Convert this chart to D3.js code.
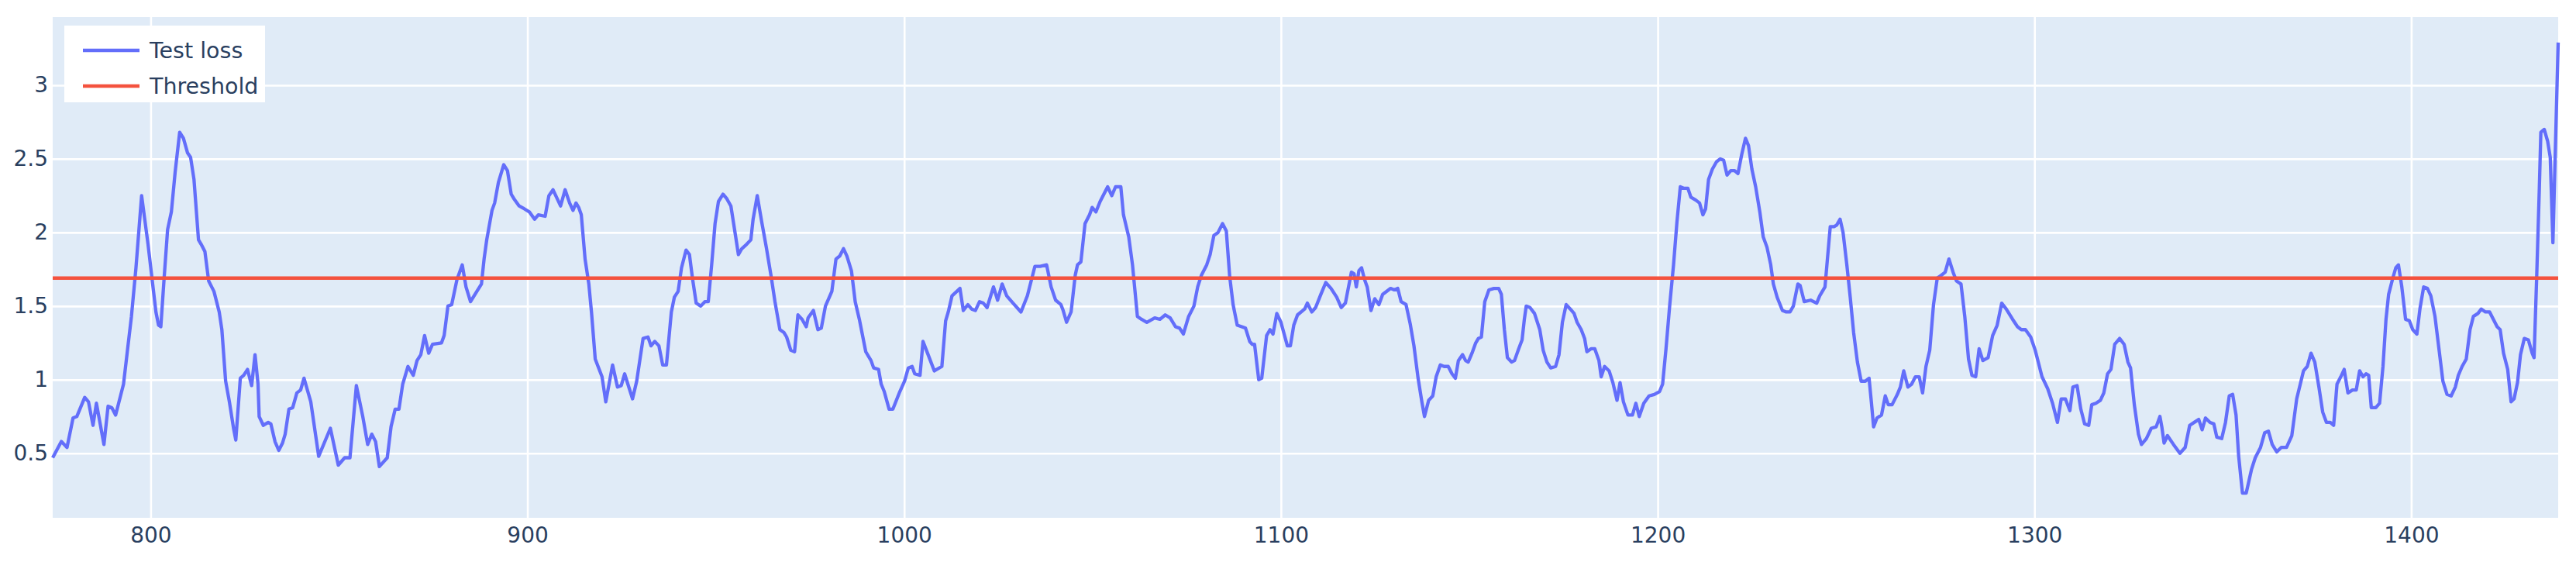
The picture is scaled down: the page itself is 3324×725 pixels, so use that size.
<!DOCTYPE html>
<html>
<head>
<meta charset="utf-8">
<script src="https://cdn.jsdelivr.net/npm/d3@7"></script>
<style>
  html, body { margin: 0; padding: 0; background: #ffffff; }
  svg { display: block; }
</style>
</head>
<body>
<svg id="chart" width="3324" height="725"></svg>
<script>
// ---- data ----
const steps = [774.0,776.3,777.8,779.4,780.4,782.5,783.5,784.7,785.6,787.6,788.7,789.7,790.7,791.8,792.8,793.8,794.9,796.1,797.6,799.3,800.3,801.4,802.1,802.7,803.6,804.5,805.5,806.5,807.7,808.7,809.8,810.6,811.5,812.7,813.4,814.4,815.4,816.8,818.2,818.9,819.9,820.9,822.0,822.6,823.8,824.7,825.7,826.8,827.7,828.5,828.8,829.9,831.2,831.9,833.0,834.0,835.0,835.7,836.7,837.7,838.8,839.8,840.7,842.5,844.6,847.7,849.8,851.5,852.9,854.6,856.3,857.6,858.7,859.7,860.7,862.8,863.8,864.9,865.9,866.9,868.3,869.7,870.7,871.7,872.7,873.8,874.8,877.2,877.9,878.9,879.9,881.3,882.7,883.7,884.9,886.1,887.8,888.5,889.2,890.6,891.3,892.3,893.7,894.7,895.7,896.4,897.8,899.2,900.5,901.9,902.9,904.7,905.7,906.8,908.8,910.0,911.2,912.1,912.9,913.6,914.3,915.3,916.3,917.0,918.0,919.8,920.8,922.6,923.9,924.9,925.8,927.9,929.0,930.7,932.0,932.8,933.8,934.9,935.9,936.9,938.2,939.0,940.0,940.9,942.1,943.0,943.8,944.8,946.0,947.1,948.0,948.9,949.8,950.7,951.9,952.9,954.0,955.1,956.0,956.9,958.2,959.3,959.9,961.0,962.2,963.4,964.7,965.7,967.0,968.1,968.8,969.9,970.9,971.8,972.9,974.0,974.5,975.9,977.1,978.0,979.1,980.8,981.9,982.9,983.9,984.8,986.0,987.0,988.1,989.8,991.2,991.9,993.2,993.9,994.7,996.0,997.0,998.7,1000.1,1001.1,1002.1,1002.8,1004.2,1005.0,1006.2,1008.0,1010.0,1011.0,1011.7,1012.7,1014.8,1015.7,1016.9,1017.9,1018.9,1020.0,1021.0,1022.0,1023.7,1024.8,1026.0,1027.2,1028.9,1031.0,1032.7,1034.7,1036.1,1037.8,1039.0,1040.2,1041.6,1042.2,1043.1,1044.3,1045.4,1046.0,1046.9,1048.0,1049.2,1049.9,1050.9,1052.0,1053.0,1054.0,1055.1,1056.1,1057.5,1058.2,1059.6,1060.6,1061.9,1063.0,1064.4,1066.5,1067.9,1069.3,1070.6,1072.0,1073.1,1074.1,1075.5,1076.9,1077.9,1078.9,1080.3,1081.2,1082.2,1083.3,1084.5,1085.5,1086.4,1087.3,1088.4,1089.6,1090.6,1091.7,1092.4,1093.0,1094.1,1094.9,1096.2,1097.1,1097.9,1098.9,1100.0,1101.7,1102.5,1103.4,1104.4,1105.8,1106.3,1107.0,1108.2,1109.2,1110.6,1111.9,1113.3,1114.8,1116.0,1117.1,1118.7,1119.4,1120.0,1120.7,1121.4,1122.2,1122.9,1123.9,1124.9,1126.0,1127.0,1129.1,1130.1,1131.0,1131.9,1133.2,1134.3,1135.3,1136.4,1137.4,1138.1,1139.2,1140.3,1141.2,1142.3,1143.3,1144.4,1145.4,1146.3,1147.1,1148.2,1149.0,1149.7,1150.7,1151.7,1152.4,1153.2,1154.1,1155.2,1156.5,1157.8,1158.5,1159.3,1160.1,1161.2,1162.0,1163.1,1164.0,1164.6,1165.1,1166.1,1167.3,1168.7,1169.6,1170.6,1171.6,1172.9,1173.8,1174.7,1175.7,1176.8,1177.8,1178.6,1179.7,1180.6,1181.2,1182.3,1183.3,1184.4,1185.0,1185.9,1187.1,1188.1,1189.2,1190.0,1190.9,1192.1,1193.3,1194.2,1195.1,1196.3,1197.7,1199.1,1200.5,1201.3,1202.2,1203.2,1204.2,1205.1,1206.0,1207.0,1208.0,1208.8,1210.1,1211.1,1212.0,1212.7,1213.5,1214.5,1215.6,1216.6,1217.5,1218.4,1219.4,1220.4,1221.3,1222.3,1223.3,1224.1,1225.0,1226.0,1227.1,1228.0,1229.0,1230.0,1230.7,1231.7,1233.1,1234.1,1235.1,1236.0,1237.2,1237.8,1238.9,1240.6,1242.2,1243.0,1244.4,1245.8,1246.8,1247.5,1248.4,1249.2,1250.2,1251.1,1252.0,1253.0,1254.0,1255.1,1256.1,1256.7,1257.3,1258.2,1259.4,1260.4,1261.2,1262.2,1263.6,1264.4,1265.3,1266.4,1267.4,1268.4,1269.4,1270.3,1271.2,1272.2,1273.2,1274.2,1275.3,1276.3,1277.3,1278.4,1279.3,1280.5,1281.5,1282.5,1283.4,1284.4,1285.3,1286.3,1287.7,1288.9,1290.1,1291.3,1292.5,1294.2,1295.5,1296.5,1297.6,1299.0,1300.2,1301.0,1302.0,1303.5,1304.8,1306.1,1307.1,1308.2,1309.4,1310.2,1311.3,1312.3,1313.3,1314.4,1315.2,1316.3,1317.5,1318.4,1319.4,1320.3,1321.3,1322.6,1323.8,1324.8,1325.5,1326.5,1327.6,1328.4,1329.7,1331.0,1332.3,1333.3,1333.8,1334.4,1335.3,1336.9,1338.6,1340.0,1341.2,1342.4,1343.6,1344.5,1345.4,1346.6,1347.6,1348.4,1349.7,1350.7,1351.7,1352.6,1353.5,1354.2,1355.2,1356.2,1357.6,1358.6,1360.0,1361.1,1362.1,1363.1,1364.3,1365.5,1366.9,1368.3,1369.6,1371.4,1372.4,1373.4,1374.4,1375.5,1376.5,1377.5,1378.5,1379.4,1380.3,1381.3,1382.2,1383.2,1384.4,1385.4,1386.3,1387.2,1388.0,1388.7,1389.4,1390.6,1391.6,1392.5,1393.3,1394.0,1395.0,1395.9,1396.6,1397.5,1398.5,1399.5,1400.4,1401.5,1402.3,1403.3,1404.3,1405.2,1406.3,1407.4,1408.4,1409.5,1410.6,1411.7,1412.5,1413.5,1414.6,1415.6,1416.5,1417.7,1418.6,1419.7,1420.8,1421.8,1422.8,1423.6,1424.5,1425.6,1426.5,1427.3,1428.2,1429.0,1430.0,1431.1,1432.1,1432.6,1433.3,1434.0,1434.4,1435.3,1436.2,1436.9,1437.6,1439.0];

const testLoss = [0.47,0.58,0.54,0.74,0.75,0.88,0.85,0.69,0.84,0.56,0.82,0.81,0.76,0.87,0.97,1.19,1.43,1.76,2.25,1.92,1.70,1.46,1.37,1.36,1.70,2.02,2.14,2.41,2.68,2.64,2.54,2.51,2.36,1.95,1.92,1.87,1.67,1.60,1.46,1.34,0.99,0.85,0.67,0.59,1.01,1.03,1.07,0.96,1.17,0.97,0.75,0.69,0.71,0.70,0.58,0.52,0.57,0.63,0.80,0.81,0.91,0.93,1.01,0.85,0.48,0.67,0.42,0.47,0.47,0.96,0.75,0.56,0.63,0.58,0.41,0.47,0.68,0.80,0.80,0.97,1.09,1.03,1.13,1.17,1.30,1.18,1.24,1.25,1.30,1.50,1.51,1.68,1.78,1.63,1.53,1.58,1.65,1.82,1.95,2.15,2.20,2.34,2.46,2.42,2.26,2.23,2.18,2.16,2.14,2.09,2.12,2.11,2.25,2.29,2.18,2.29,2.20,2.15,2.20,2.17,2.12,1.82,1.65,1.46,1.14,1.02,0.85,1.10,0.95,0.96,1.04,0.87,0.99,1.28,1.29,1.23,1.26,1.23,1.10,1.10,1.46,1.56,1.60,1.76,1.88,1.85,1.69,1.52,1.50,1.53,1.53,1.78,2.06,2.21,2.26,2.23,2.18,2.00,1.85,1.89,1.92,1.95,2.09,2.25,2.07,1.90,1.70,1.53,1.34,1.32,1.29,1.20,1.19,1.44,1.41,1.36,1.42,1.47,1.34,1.35,1.50,1.60,1.82,1.84,1.89,1.84,1.74,1.53,1.41,1.19,1.13,1.08,1.07,0.97,0.92,0.80,0.80,0.91,0.99,1.08,1.09,1.04,1.03,1.26,1.18,1.06,1.09,1.40,1.46,1.57,1.62,1.47,1.51,1.48,1.47,1.53,1.52,1.49,1.63,1.54,1.65,1.57,1.52,1.46,1.57,1.77,1.77,1.78,1.63,1.54,1.51,1.47,1.39,1.46,1.71,1.78,1.80,2.06,2.12,2.17,2.14,2.21,2.26,2.31,2.25,2.31,2.31,2.12,1.97,1.78,1.43,1.41,1.39,1.42,1.41,1.44,1.42,1.36,1.35,1.31,1.43,1.50,1.63,1.71,1.78,1.85,1.98,2.00,2.06,2.01,1.70,1.51,1.37,1.36,1.35,1.26,1.24,1.24,1.00,1.01,1.30,1.34,1.31,1.45,1.39,1.23,1.23,1.37,1.44,1.47,1.48,1.52,1.46,1.49,1.58,1.66,1.62,1.56,1.49,1.52,1.73,1.72,1.63,1.74,1.76,1.68,1.63,1.47,1.55,1.51,1.58,1.62,1.61,1.62,1.53,1.51,1.38,1.23,1.01,0.85,0.75,0.86,0.89,1.02,1.10,1.09,1.09,1.04,1.01,1.13,1.17,1.13,1.12,1.18,1.25,1.28,1.29,1.53,1.61,1.62,1.62,1.58,1.34,1.15,1.12,1.13,1.21,1.27,1.41,1.50,1.49,1.45,1.34,1.20,1.12,1.08,1.09,1.17,1.39,1.51,1.48,1.45,1.39,1.34,1.28,1.19,1.21,1.21,1.13,1.02,1.09,1.06,0.98,0.86,0.98,0.85,0.76,0.76,0.84,0.75,0.84,0.89,0.90,0.92,0.97,1.21,1.51,1.78,2.07,2.31,2.30,2.30,2.24,2.22,2.20,2.12,2.16,2.36,2.43,2.48,2.50,2.49,2.39,2.42,2.42,2.40,2.53,2.64,2.59,2.43,2.31,2.14,1.97,1.90,1.78,1.65,1.56,1.47,1.46,1.46,1.50,1.65,1.64,1.53,1.54,1.52,1.57,1.63,2.04,2.04,2.05,2.09,2.00,1.78,1.56,1.32,1.12,0.99,0.99,1.01,0.85,0.68,0.74,0.76,0.89,0.83,0.83,0.90,0.95,1.06,0.95,0.97,1.02,1.02,0.91,1.09,1.20,1.51,1.69,1.71,1.73,1.82,1.73,1.67,1.65,1.43,1.14,1.03,1.02,1.21,1.13,1.15,1.30,1.37,1.52,1.48,1.41,1.36,1.34,1.34,1.29,1.20,1.12,1.02,0.94,0.84,0.71,0.87,0.87,0.79,0.95,0.96,0.80,0.70,0.69,0.83,0.84,0.86,0.91,1.04,1.07,1.24,1.28,1.24,1.12,1.08,0.83,0.63,0.56,0.60,0.67,0.68,0.75,0.68,0.57,0.62,0.56,0.50,0.54,0.69,0.71,0.73,0.66,0.74,0.71,0.70,0.61,0.60,0.71,0.89,0.90,0.76,0.48,0.23,0.23,0.39,0.47,0.54,0.64,0.65,0.56,0.51,0.54,0.54,0.62,0.87,1.06,1.09,1.18,1.12,0.95,0.78,0.71,0.71,0.69,0.97,1.02,1.07,0.91,0.93,0.93,1.06,1.02,1.04,1.03,0.81,0.81,0.84,1.09,1.41,1.58,1.68,1.76,1.78,1.63,1.41,1.40,1.34,1.31,1.48,1.63,1.62,1.57,1.43,1.20,0.99,0.90,0.89,0.95,1.03,1.09,1.14,1.34,1.43,1.45,1.48,1.46,1.46,1.41,1.36,1.34,1.18,1.07,0.85,0.87,0.98,1.17,1.28,1.27,1.18,1.15,1.70,2.30,2.68,2.70,2.62,2.51,1.93,3.29];

const threshold = 1.69;
const xTicks = [800, 900, 1000, 1100, 1200, 1300, 1400];
const yTicks = [0.5, 1, 1.5, 2, 2.5, 3];
const yDomain = [0.062, 3.463];
const seriesNames = ["Test loss", "Threshold"];
const seriesColors = ["#636EFA", "#F4523E"];

// ---- layout ----
const W = 3324, H = 725;
const plot = { left: 68, right: 3301, top: 22, bottom: 668 };
const FONT = "'DejaVu Sans', Verdana, sans-serif";
const TXT = "#2a3f5f";

const svg = d3.select("#chart");
svg.append("rect").attr("width", W).attr("height", H).attr("fill", "#ffffff");

const x = d3.scaleLinear().domain(d3.extent(steps)).range([plot.left, plot.right]);
const y = d3.scaleLinear().domain(yDomain).range([plot.bottom, plot.top]);

svg.append("rect")
  .attr("x", plot.left).attr("y", plot.top)
  .attr("width", plot.right - plot.left).attr("height", plot.bottom - plot.top)
  .attr("fill", "#E0EBF7");

// grid + tick labels via axes
const gx = svg.append("g")
  .attr("transform", `translate(0,${plot.bottom})`)
  .call(d3.axisBottom(x).tickValues(xTicks).tickFormat(d3.format("d"))
        .tickSizeInner(-(plot.bottom - plot.top)).tickSizeOuter(0).tickPadding(12));
const gy = svg.append("g")
  .attr("transform", `translate(${plot.left},0)`)
  .call(d3.axisLeft(y).tickValues(yTicks).tickFormat(d => String(d))
        .tickSizeInner(-(plot.right - plot.left)).tickSizeOuter(0).tickPadding(6));

[gx, gy].forEach(g => {
  g.select(".domain").remove();
  g.selectAll(".tick line").attr("stroke", "#ffffff").attr("stroke-width", 2.6);
  g.selectAll(".tick text")
    .attr("fill", TXT)
    .style("font-family", FONT)
    .style("font-size", "28px");
});

// series
const line = d3.line().x((d, i) => x(steps[i])).y(d => y(d));
svg.append("path")
  .datum(testLoss)
  .attr("d", line)
  .attr("fill", "none")
  .attr("stroke", seriesColors[0])
  .attr("stroke-width", 4.3)
  .attr("stroke-linejoin", "round");

svg.append("line")
  .attr("x1", x(steps[0])).attr("x2", x(steps[steps.length - 1]))
  .attr("y1", y(threshold)).attr("y2", y(threshold))
  .attr("stroke", seriesColors[1])
  .attr("stroke-width", 4.5);

// legend
const lg = svg.append("g");
lg.append("rect")
  .attr("x", 83).attr("y", 33).attr("width", 259).attr("height", 99)
  .attr("fill", "#ffffff");
seriesNames.forEach((name, i) => {
  const cy = 65 + i * 46;
  lg.append("line")
    .attr("x1", 107).attr("x2", 180).attr("y1", cy).attr("y2", cy)
    .attr("stroke", seriesColors[i]).attr("stroke-width", 4.3);
  lg.append("text")
    .attr("x", 193).attr("y", cy + 10)
    .attr("fill", TXT)
    .style("font-family", FONT)
    .style("font-size", "28.5px")
    .text(name);
});
</script>
</body>
</html>
